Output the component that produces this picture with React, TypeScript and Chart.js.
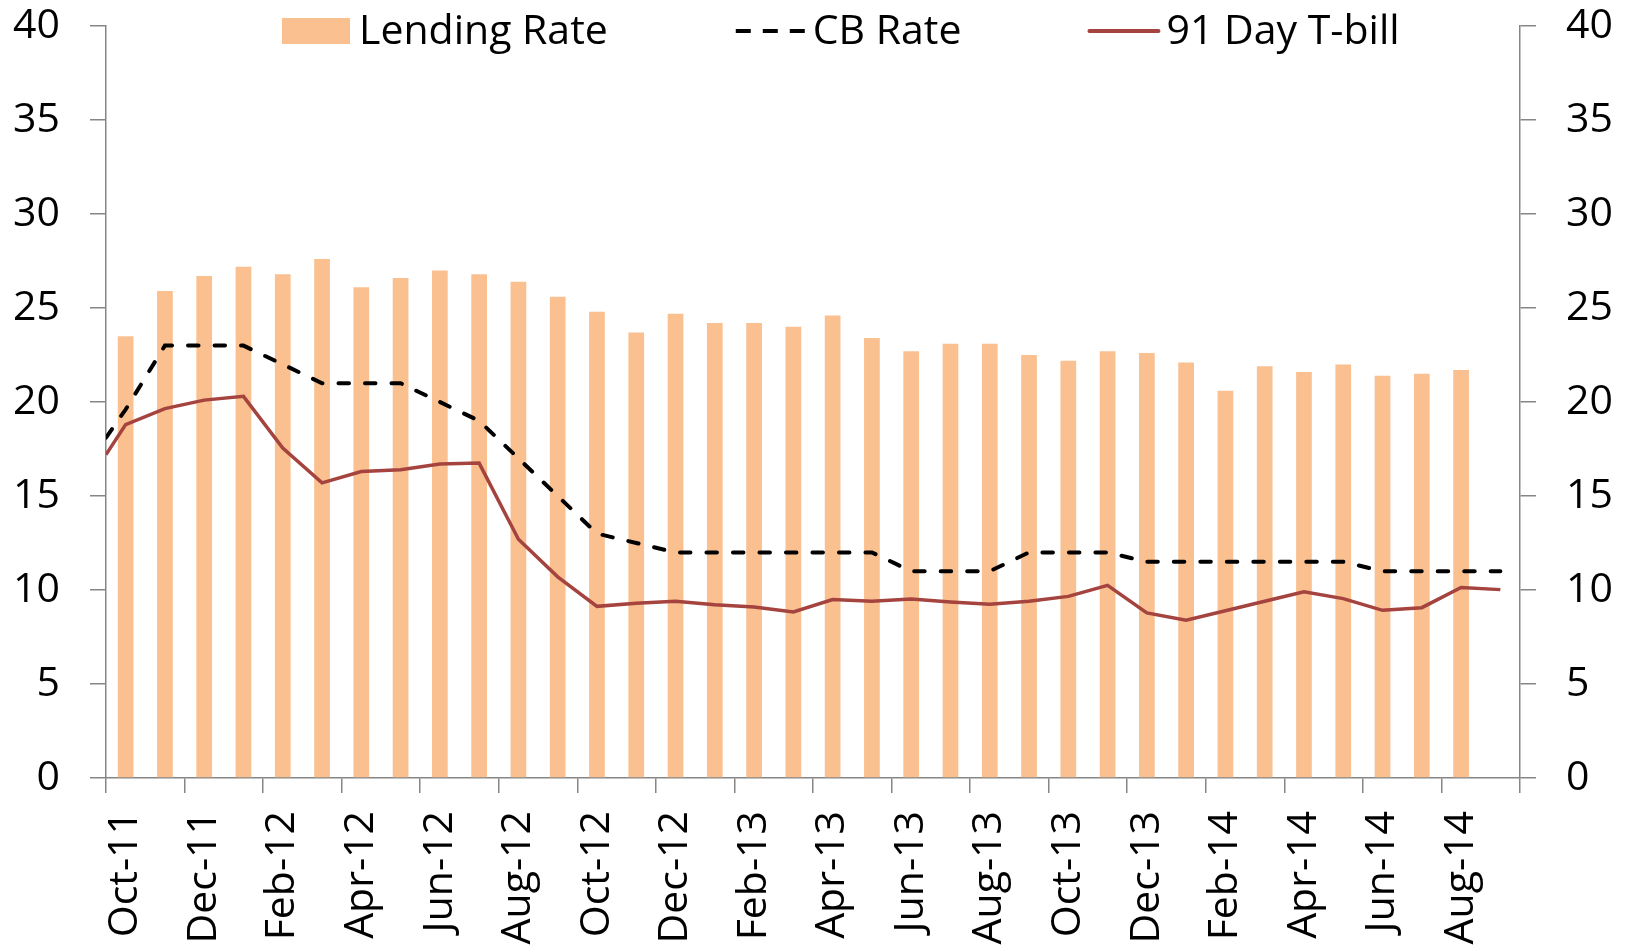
import React, { useEffect, useRef } from "react";
import { Chart, registerables } from "chart.js";

Chart.register(...registerables);

const months = [
  "Oct-11", "Nov-11", "Dec-11", "Jan-12", "Feb-12", "Mar-12", "Apr-12", "May-12", "Jun-12", "Jul-12", "Aug-12", "Sep-12",
  "Oct-12", "Nov-12", "Dec-12", "Jan-13", "Feb-13", "Mar-13", "Apr-13", "May-13", "Jun-13", "Jul-13", "Aug-13", "Sep-13",
  "Oct-13", "Nov-13", "Dec-13", "Jan-14", "Feb-14", "Mar-14", "Apr-14", "May-14", "Jun-14", "Jul-14", "Aug-14", "Sep-14",
];

const lendingRate: (number | null)[] = [
  23.5, 25.9, 26.7, 27.2, 26.8, 27.6, 26.1, 26.6, 27.0, 26.8, 26.4, 25.6,
  24.8, 23.7, 24.7, 24.2, 24.2, 24.0, 24.6, 23.4, 22.7, 23.1, 23.1, 22.5,
  22.2, 22.7, 22.6, 22.1, 20.6, 21.9, 21.6, 22.0, 21.4, 21.5, 21.7, null,
];

// opening values drawn at the start of the period (left edge)
const cbRateOpening = 18.1;
const tbillOpening = 17.2;

const cbRate = [
  19.6, 23, 23, 23, 22, 21, 21, 21, 20, 19, 17, 15,
  13, 12.5, 12, 12, 12, 12, 12, 12, 11, 11, 11, 12,
  12, 12, 11.5, 11.5, 11.5, 11.5, 11.5, 11.5, 11, 11, 11, 11,
];

const tbill91 = [
  18.8, 19.65, 20.1, 20.3, 17.55, 15.7, 16.3, 16.4, 16.7, 16.75, 12.7, 10.7,
  9.13, 9.3, 9.4, 9.22, 9.1, 8.83, 9.49, 9.4, 9.52, 9.36, 9.24, 9.4,
  9.66, 10.25, 8.78, 8.39, 8.9, 9.4, 9.9, 9.54, 8.92, 9.06, 10.13, 10.02,
];

const yTicks = [0, 5, 10, 15, 20, 25, 30, 35, 40];

const BAR_COLOR = "#FAC090";
const CB_COLOR = "#000000";
const TB_COLOR = "#A5433F";
const AXIS_COLOR = "#868686";
const FONT = "'Open Sans'";
const FONT_SIZE = 41;

const toLine = (opening: number, values: number[]) => [
  { x: 0, y: opening },
  ...values.map((v, i) => ({ x: i + 0.5, y: v })),
];

const legendPlugin = {
  id: "overlayLegend",
  afterDraw(chart: any) {
    const ctx = chart.ctx;
    const area = chart.chartArea;
    ctx.save();
    ctx.font = `${FONT_SIZE}px ${FONT}`;
    ctx.textBaseline = "middle";
    ctx.fillStyle = "#000";
    const cy = 31;
    const sampleW = 69;
    const textGap = 8;
    const itemGap = 128;
    let x = area.left + 176;

    const items = [
      { text: "Lending Rate", kind: "bar" },
      { text: "CB Rate", kind: "dash" },
      { text: "91 Day T-bill", kind: "line" },
    ];
    items.forEach((it) => {
      if (it.kind === "bar") {
        ctx.fillStyle = BAR_COLOR;
        ctx.fillRect(x, cy - 13, sampleW - 1, 26);
      } else {
        ctx.beginPath();
        ctx.lineWidth = 4;
        ctx.strokeStyle = it.kind === "dash" ? CB_COLOR : TB_COLOR;
        ctx.setLineDash(it.kind === "dash" ? [15, 12] : []);
        ctx.lineCap = it.kind === "dash" ? "butt" : "round";
        ctx.moveTo(x, cy);
        ctx.lineTo(x + sampleW, cy);
        ctx.stroke();
        ctx.setLineDash([]);
      }
      const tx = x + sampleW + textGap;
      ctx.fillStyle = "#000";
      ctx.textAlign = "left";
      ctx.fillText(it.text, tx, cy + 1);
      x = tx + ctx.measureText(it.text).width + itemGap;
    });
    ctx.restore();
  },
};

export default function App() {
  const canvasRef = useRef<HTMLCanvasElement | null>(null);

  useEffect(() => {
    if (!canvasRef.current) return;
    Chart.defaults.font.family = FONT;
    const yAxisBase = (position: "left" | "right", width: number) => ({
      type: "linear" as const,
      position,
      min: 0,
      max: 40,
      afterBuildTicks: (scale: any) => {
        scale.ticks = yTicks.map((v) => ({ value: v }));
      },
      afterFit: (scale: any) => {
        scale.width = width;
        scale.paddingTop = 0;
        scale.paddingBottom = 0;
      },
      ticks: {
        color: "#000",
        font: { size: FONT_SIZE, family: FONT },
        padding: 30,
      },
      grid: {
        drawOnChartArea: false,
        drawTicks: true,
        tickLength: 16,
        color: AXIS_COLOR,
        lineWidth: 1.5,
      },
      border: { display: true, color: AXIS_COLOR, width: 1.5 },
    });

    const chart = new Chart(canvasRef.current, {
      type: "bar",
      data: {
        labels: months,
        datasets: [
          {
            type: "line",
            label: "91 Day T-bill",
            data: toLine(tbillOpening, tbill91) as any,
            xAxisID: "xl",
            yAxisID: "y",
            borderColor: TB_COLOR,
            backgroundColor: TB_COLOR,
            borderWidth: 3.5,
            pointRadius: 0,
            tension: 0,
            order: 1,
          },
          {
            type: "line",
            label: "CB Rate",
            data: toLine(cbRateOpening, cbRate) as any,
            xAxisID: "xl",
            yAxisID: "y",
            borderColor: CB_COLOR,
            backgroundColor: CB_COLOR,
            borderWidth: 4,
            borderDash: [10.5, 16],
            borderCapStyle: "round",
            pointRadius: 0,
            tension: 0,
            order: 2,
          },
          {
            type: "bar",
            label: "Lending Rate",
            data: lendingRate as any,
            xAxisID: "x",
            yAxisID: "y",
            backgroundColor: BAR_COLOR,
            borderWidth: 0,
            grouped: false,
            barPercentage: 0.4,
            categoryPercentage: 1,
            order: 3,
          },
        ],
      },
      options: {
        responsive: false,
        animation: false,
        layout: { padding: { top: 26, left: 0, right: 0, bottom: 0 } },
        plugins: {
          legend: { display: false },
          tooltip: { enabled: false },
        },
        scales: {
          x: {
            type: "category",
            position: "bottom",
            offset: true,
            afterFit: (scale: any) => {
              scale.height = 170;
              scale.paddingLeft = 0;
              scale.paddingRight = 0;
            },
            ticks: {
              autoSkip: false,
              minRotation: 90,
              maxRotation: 90,
              color: "#000",
              font: { size: FONT_SIZE, family: FONT },
              padding: 18,
              callback: (_v: any, i: number) => (i % 2 === 0 ? months[i] : ""),
            },
            grid: {
              offset: true,
              drawOnChartArea: false,
              drawTicks: true,
              tickLength: 15,
              lineWidth: 1.5,
              color: (c: any) =>
                c.index === undefined || c.index % 2 === 0 ? AXIS_COLOR : "rgba(0,0,0,0)",
            },
            border: { display: true, color: AXIS_COLOR, width: 1.5 },
          },
          xl: {
            type: "linear",
            display: false,
            offset: false,
            grid: { offset: false },
            min: 0,
            max: months.length,
          },
          y: yAxisBase("left", 106) as any,
          y2: yAxisBase("right", 111) as any,
        },
      },
      plugins: [legendPlugin],
    });
    return () => chart.destroy();
  }, []);

  return (
    <div style={{ position: "absolute", left: 0, top: 0, width: 1631, height: 948 }}>
      <canvas ref={canvasRef} width={1631} height={948} style={{ display: "block" }} />
    </div>
  );
}
